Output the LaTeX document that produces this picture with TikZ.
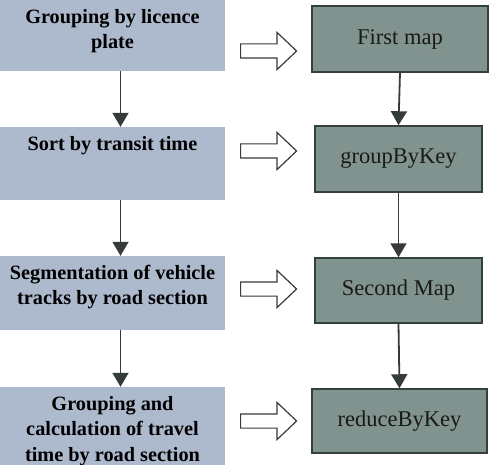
\documentclass[tikz,border=0pt]{standalone}
\usepackage{fontspec}
\setmainfont{Liberation Serif}[BoldFont={Liberation Serif Bold}]
\usetikzlibrary{arrows.meta, shapes, positioning}

\definecolor{stagefill}{HTML}{ADB9CD}
\definecolor{opfill}{HTML}{80938E}
\definecolor{opline}{HTML}{34403E}
\definecolor{flowline}{HTML}{353B3B}
\newcommand{\stagefont}{\bfseries\fontsize{20.3}{25.5}\selectfont}
\newcommand{\opfont}{\fontsize{22.5}{27}\selectfont}

\begin{document}
\begin{tikzpicture}[x=1pt, y=-1pt, on grid, node distance=130pt,
	stage/.style={fill=stagefill, minimum width=225pt, inner sep=0pt},
	stagetext/.style={font=\stagefont, text=black, align=center, anchor=north, inner sep=0pt, yshift=-9pt},
	op/.style={draw=opline, line width=1.5pt, fill=opfill, font=\opfont, text=black!90, inner sep=0pt},
	handoff/.style={single arrow, draw=flowline, line width=1.2pt, fill=white, inner xsep=0pt, inner ysep=6.5pt, minimum height=56pt, single arrow head extend=11.5pt, single arrow tip angle=87, anchor=tail},
	flow/.style={draw=flowline, line width=1.8pt, -{Triangle[length=14pt, width=16pt]}}]
	\useasboundingbox (0,0) rectangle (495,465);
	
	% processing steps
	\node[stage, minimum height=71pt, label={[stagetext]north:{Grouping by licence\\plate}}] (lic) at (112.5,35.5) {};
	\node[stage, minimum height=73pt, below=128pt of lic, label={[stagetext]north:{Sort by transit time}}] (sort) {};
	\node[stage, minimum height=74pt, below=129.5pt of sort, label={[stagetext]north:{Segmentation of vehicle\\tracks by road section}}] (seg) {};
	\node[stage, minimum height=78pt, below=133pt of seg, label={[stagetext]north:{Grouping and\\calculation of travel\\time by road section}}] (calc) {};
	
	% spark operators
	\node[op, minimum width=176pt, minimum height=66pt] (fmap) at (400,39) {First map};
	\node[op, minimum width=167pt, minimum height=66pt, below=120pt of fmap, xshift=-1.5pt] (gbk) {groupByKey};
	\node[op, minimum width=167pt, minimum height=65pt, below=131.5pt of gbk] (smap) {Second Map};
	\node[op, minimum width=175pt, minimum height=64pt, below=130.5pt of smap, xshift=1pt] (rbk) {reduceByKey};
	
	\node[handoff] (h1) at (240,51) {};
	\node[handoff] (h2) at (240,151) {};
	\node[handoff] (h3) at (240,289) {};
	\node[handoff] (h4) at (240,421) {};
	
	\draw[flow] ([xshift=8pt]lic.south) -- ([xshift=8pt]sort.north);
	\draw[flow] ([xshift=8pt]sort.south) -- ([xshift=8pt]seg.north);
	\draw[flow] ([xshift=8pt]seg.south) -- ([xshift=8pt]calc.north);
	\draw[flow] (fmap.south) -- (gbk.north);
	\draw[flow] (gbk.south) -- (smap.north);
	\draw[flow] (smap.south) -- (rbk.north);
\end{tikzpicture}
\end{document}
